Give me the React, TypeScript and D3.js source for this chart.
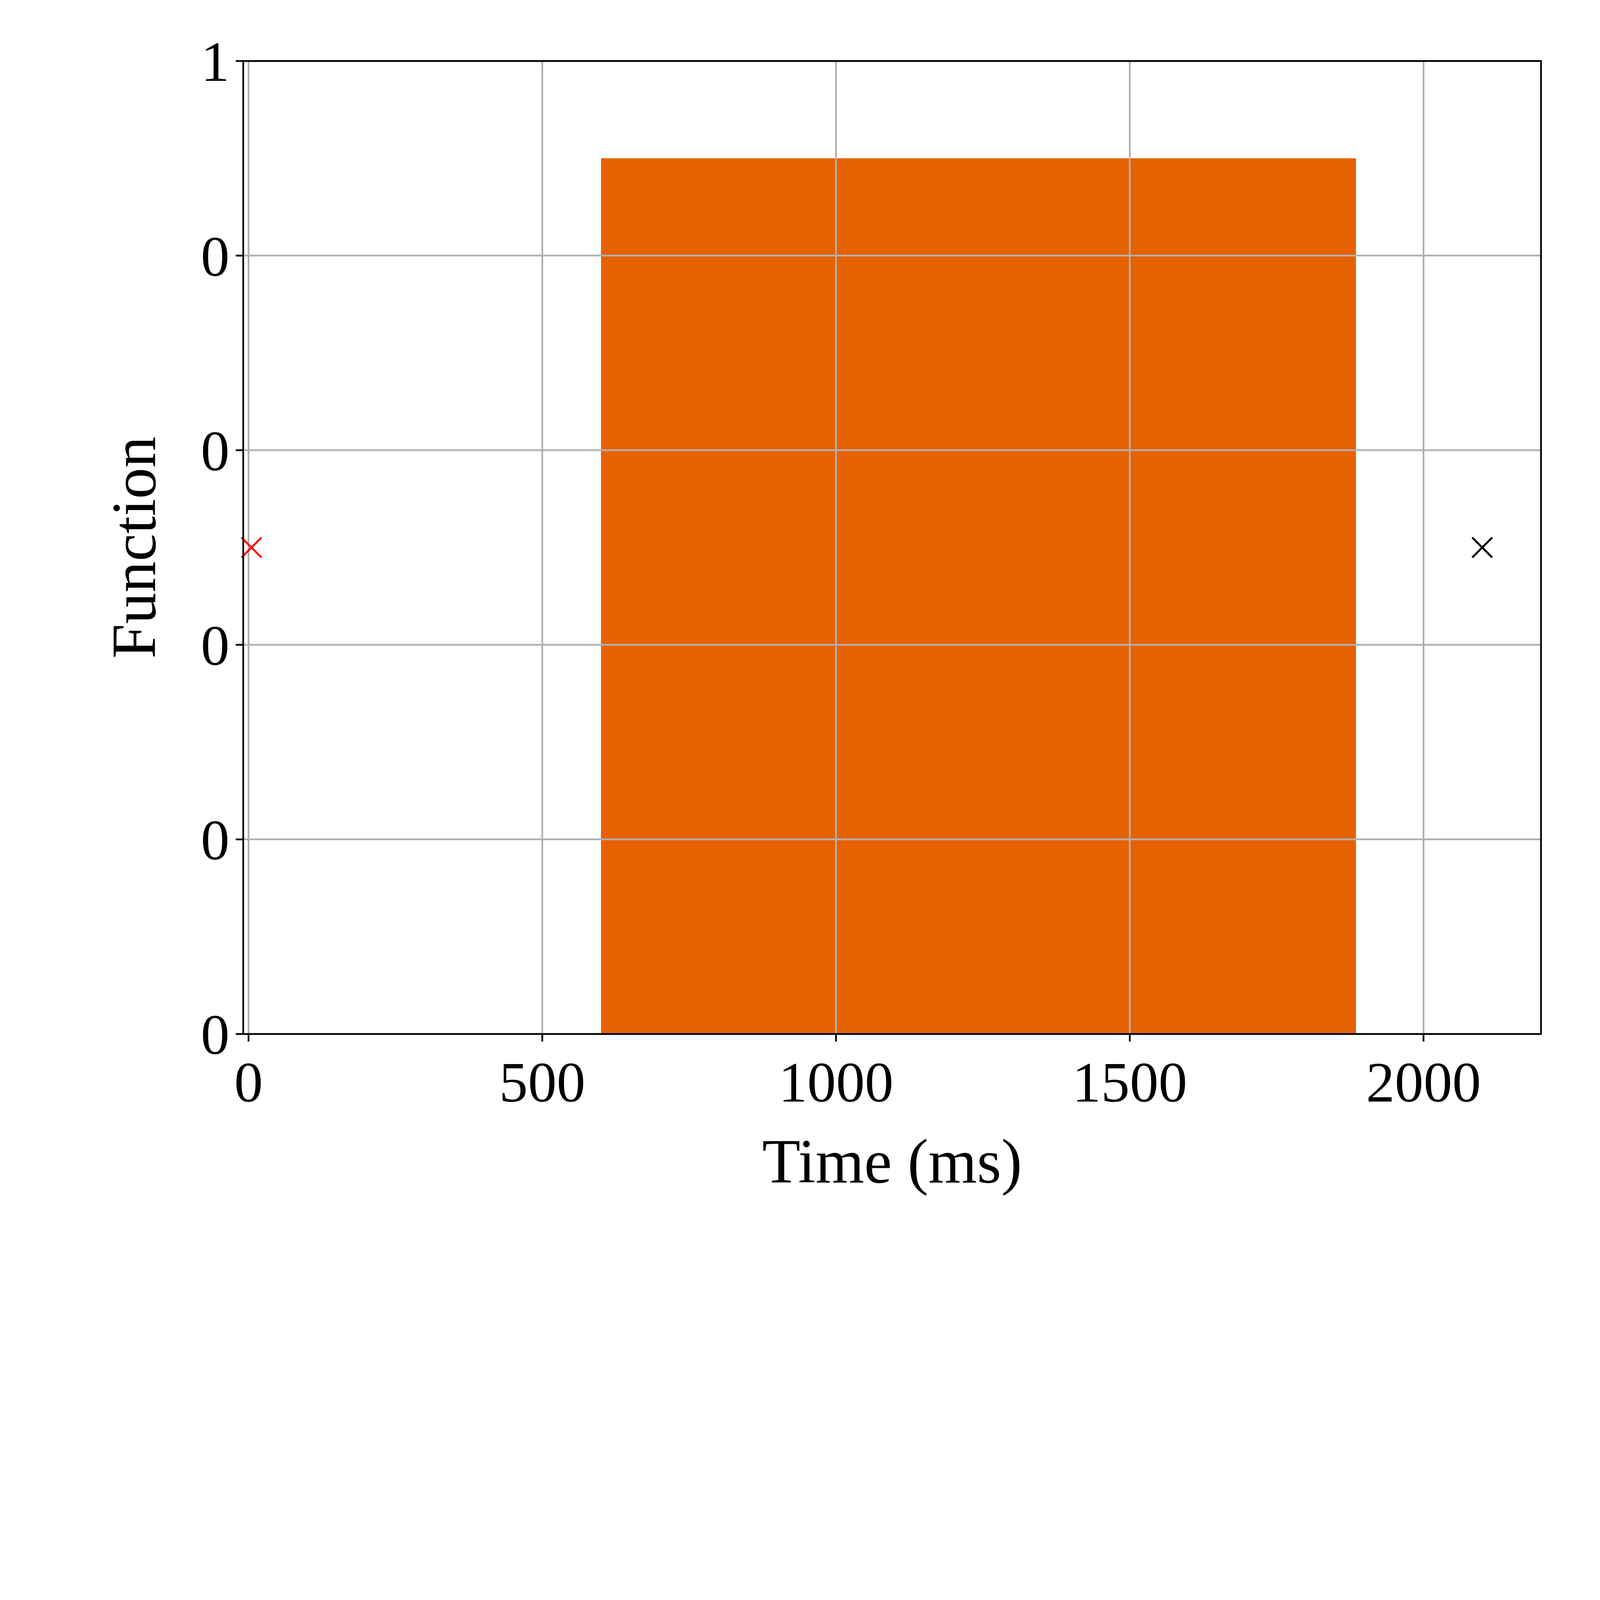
import React from "react";
import * as d3 from "d3";

const xTicks = [0, 500, 1000, 1500, 2000];
const yTicks = [0, 0.2, 0.4, 0.6, 0.8, 1];
const yTickLabels = ["0", "0", "0", "0", "0", "1"];
const bars = [{ start: 600, end: 1885, value: 0.9 }];
const markers = [
  { x: 5, y: 0.5, color: "#ff0000" },
  { x: 2100, y: 0.5, color: "#000000" },
];

export default function App() {
  const W = 6400, H = 4800;
  const L = 973, R = 6164, T = 244, B = 4136;
  const x = d3.scaleLinear().domain([-9, 2200]).range([L, R]);
  const y = d3.scaleLinear().domain([0, 1]).range([B, T]);
  const font = "'Liberation Serif', serif";
  const ms = 40;
  return (
    <svg viewBox={`0 0 ${W} ${H}`} preserveAspectRatio="xMinYMin meet"
      style={{ position: "fixed", left: 0, top: 0, width: "100vw", height: "100vh", background: "#fff" }}>
      <rect x={0} y={0} width={W} height={H} fill="#fff" />
      {bars.map((b, i) => (
        <rect key={i} x={x(b.start)} y={y(b.value)} width={x(b.end) - x(b.start)} height={y(0) - y(b.value)} fill="#e66101" />
      ))}
      {xTicks.map((t) => (
        <line key={"gx" + t} x1={x(t)} x2={x(t)} y1={T} y2={B} stroke="#b0b0b0" strokeWidth={7} />
      ))}
      {yTicks.map((t) => (
        <line key={"gy" + t} x1={L} x2={R} y1={y(t)} y2={y(t)} stroke="#b0b0b0" strokeWidth={7} />
      ))}
      {markers.map((m, i) => (
        <g key={i} stroke={m.color} strokeWidth={8}>
          <line x1={x(m.x) - ms} x2={x(m.x) + ms} y1={y(m.y) - ms} y2={y(m.y) + ms} />
          <line x1={x(m.x) - ms} x2={x(m.x) + ms} y1={y(m.y) + ms} y2={y(m.y) - ms} />
        </g>
      ))}
      <rect x={L} y={T} width={R - L} height={B - T} fill="none" stroke="#000" strokeWidth={7} />
      {xTicks.map((t) => (
        <g key={"tx" + t}>
          <line x1={x(t)} x2={x(t)} y1={B} y2={B + 30} stroke="#000" strokeWidth={7} />
          <text x={x(t)} y={B + 270} textAnchor="middle" fontFamily={font} fontSize={230}>{t}</text>
        </g>
      ))}
      {yTicks.map((t, i) => (
        <g key={"ty" + t}>
          <line x1={L - 30} x2={L} y1={y(t)} y2={y(t)} stroke="#000" strokeWidth={7} />
          <text x={L - 55} y={y(t) + 80} textAnchor="end" fontFamily={font} fontSize={230}>{yTickLabels[i]}</text>
        </g>
      ))}
      <text x={(L + R) / 2} y={4730} textAnchor="middle" fontFamily={font} fontSize={250}>Time (ms)</text>
      <text transform={`translate(620, ${(T + B) / 2}) rotate(-90)`} textAnchor="middle" fontFamily={font} fontSize={250}>Function</text>
    </svg>
  );
}
